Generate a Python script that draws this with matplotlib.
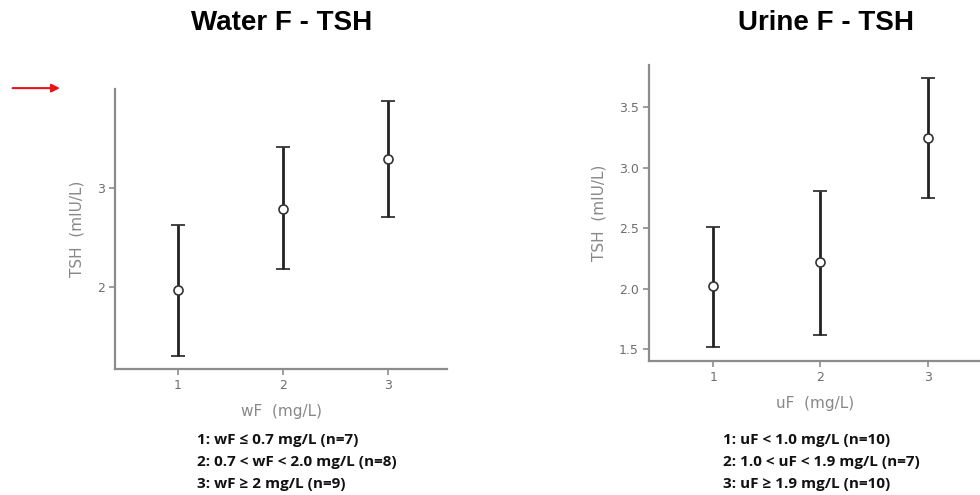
import matplotlib
matplotlib.use("Agg")
import matplotlib.pyplot as plt
from matplotlib.patches import FancyArrowPatch

groups = [1, 2, 3]

water_mean = [1.97, 2.79, 3.29]
water_low = [1.30, 2.18, 2.71]
water_high = [2.63, 3.41, 3.88]

urine_mean = [2.02, 2.22, 3.25]
urine_low = [1.52, 1.62, 2.75]
urine_high = [2.51, 2.81, 3.74]

water_notes = ["1: wF \u2264 0.7 mg/L (n=7)",
               "2: 0.7 < wF < 2.0 mg/L (n=8)",
               "3: wF \u2265 2 mg/L (n=9)"]
urine_notes = ["1: uF < 1.0 mg/L (n=10)",
               "2: 1.0 < uF < 1.9 mg/L (n=7)",
               "3: uF \u2265 1.9 mg/L (n=10)"]

fig = plt.figure(figsize=(9.8, 4.95), dpi=100)
fig.patch.set_facecolor("white")

axis_col = "#8c8c8c"
tick_col = "#6e6e6e"
bar_col = "#222222"


def panel(rect, mean, low, high, xlab, xlim, ylim, yticks, yticklabels):
    ax = fig.add_axes(rect)
    yerr = [[m - l for m, l in zip(mean, low)], [h - m for m, h in zip(mean, high)]]
    ax.errorbar(groups, mean, yerr=yerr, fmt="o", color=bar_col, ecolor=bar_col,
                elinewidth=2, capsize=5, capthick=2, markersize=6.5,
                markerfacecolor="white", markeredgecolor="#333333", markeredgewidth=1.2,
                zorder=3)
    ax.set_xlim(*xlim)
    ax.set_ylim(*ylim)
    ax.set_xticks(groups)
    ax.set_xticklabels([str(g) for g in groups])
    ax.set_yticks(yticks)
    ax.set_yticklabels(yticklabels)
    for s in ["top", "right"]:
        ax.spines[s].set_visible(False)
    for s in ["left", "bottom"]:
        ax.spines[s].set_color(axis_col)
        ax.spines[s].set_linewidth(1.6)
    ax.tick_params(colors=axis_col, labelcolor=tick_col, labelsize=9, length=4, width=1.2)
    ax.set_ylabel("TSH  (mIU/L)", color="#888888", fontsize=11, labelpad=9)
    ax.set_xlabel(xlab, color="#888888", fontsize=11, labelpad=8)
    return ax


ax1 = panel([0.1173, 0.2545, 0.339, 0.5655], water_mean, water_low, water_high,
            "wF  (mg/L)", (0.40, 3.56), (1.17, 4.0), [2, 3], ["2", "3"])
ax2 = panel([0.6622, 0.2707, 0.338, 0.5980], urine_mean, urine_low, urine_high,
            "uF  (mg/L)", (0.40, 3.49), (1.403, 3.85), [1.5, 2.0, 2.5, 3.0, 3.5],
            ["1.5", "2.0", "2.5", "3.0", "3.5"])

fig.text(0.2875, 0.9535, "Water F - TSH", ha="center", va="center",
         fontsize=20, fontweight="bold", family="Liberation Sans")
fig.text(0.8425, 0.9535, "Urine F - TSH", ha="center", va="center",
         fontsize=20, fontweight="bold", family="Liberation Sans")

arrow = FancyArrowPatch((0.010, 0.822), (0.064, 0.822), transform=fig.transFigure,
                        arrowstyle="-|>", mutation_scale=12, color="#e8141a", lw=1.5)
fig.patches.append(arrow)

ys = [1 - 440 / 495, 1 - 462 / 495, 1 - 484 / 495]
for y, t in zip(ys, water_notes):
    fig.text(0.201, y, t, ha="left", va="center", fontsize=11,
             fontweight="bold", family="Open Sans", color="#111111")
for y, t in zip(ys, urine_notes):
    fig.text(0.738, y, t, ha="left", va="center", fontsize=11,
             fontweight="bold", family="Open Sans", color="#111111")

fig.savefig("out.png", dpi=100, facecolor="white")
